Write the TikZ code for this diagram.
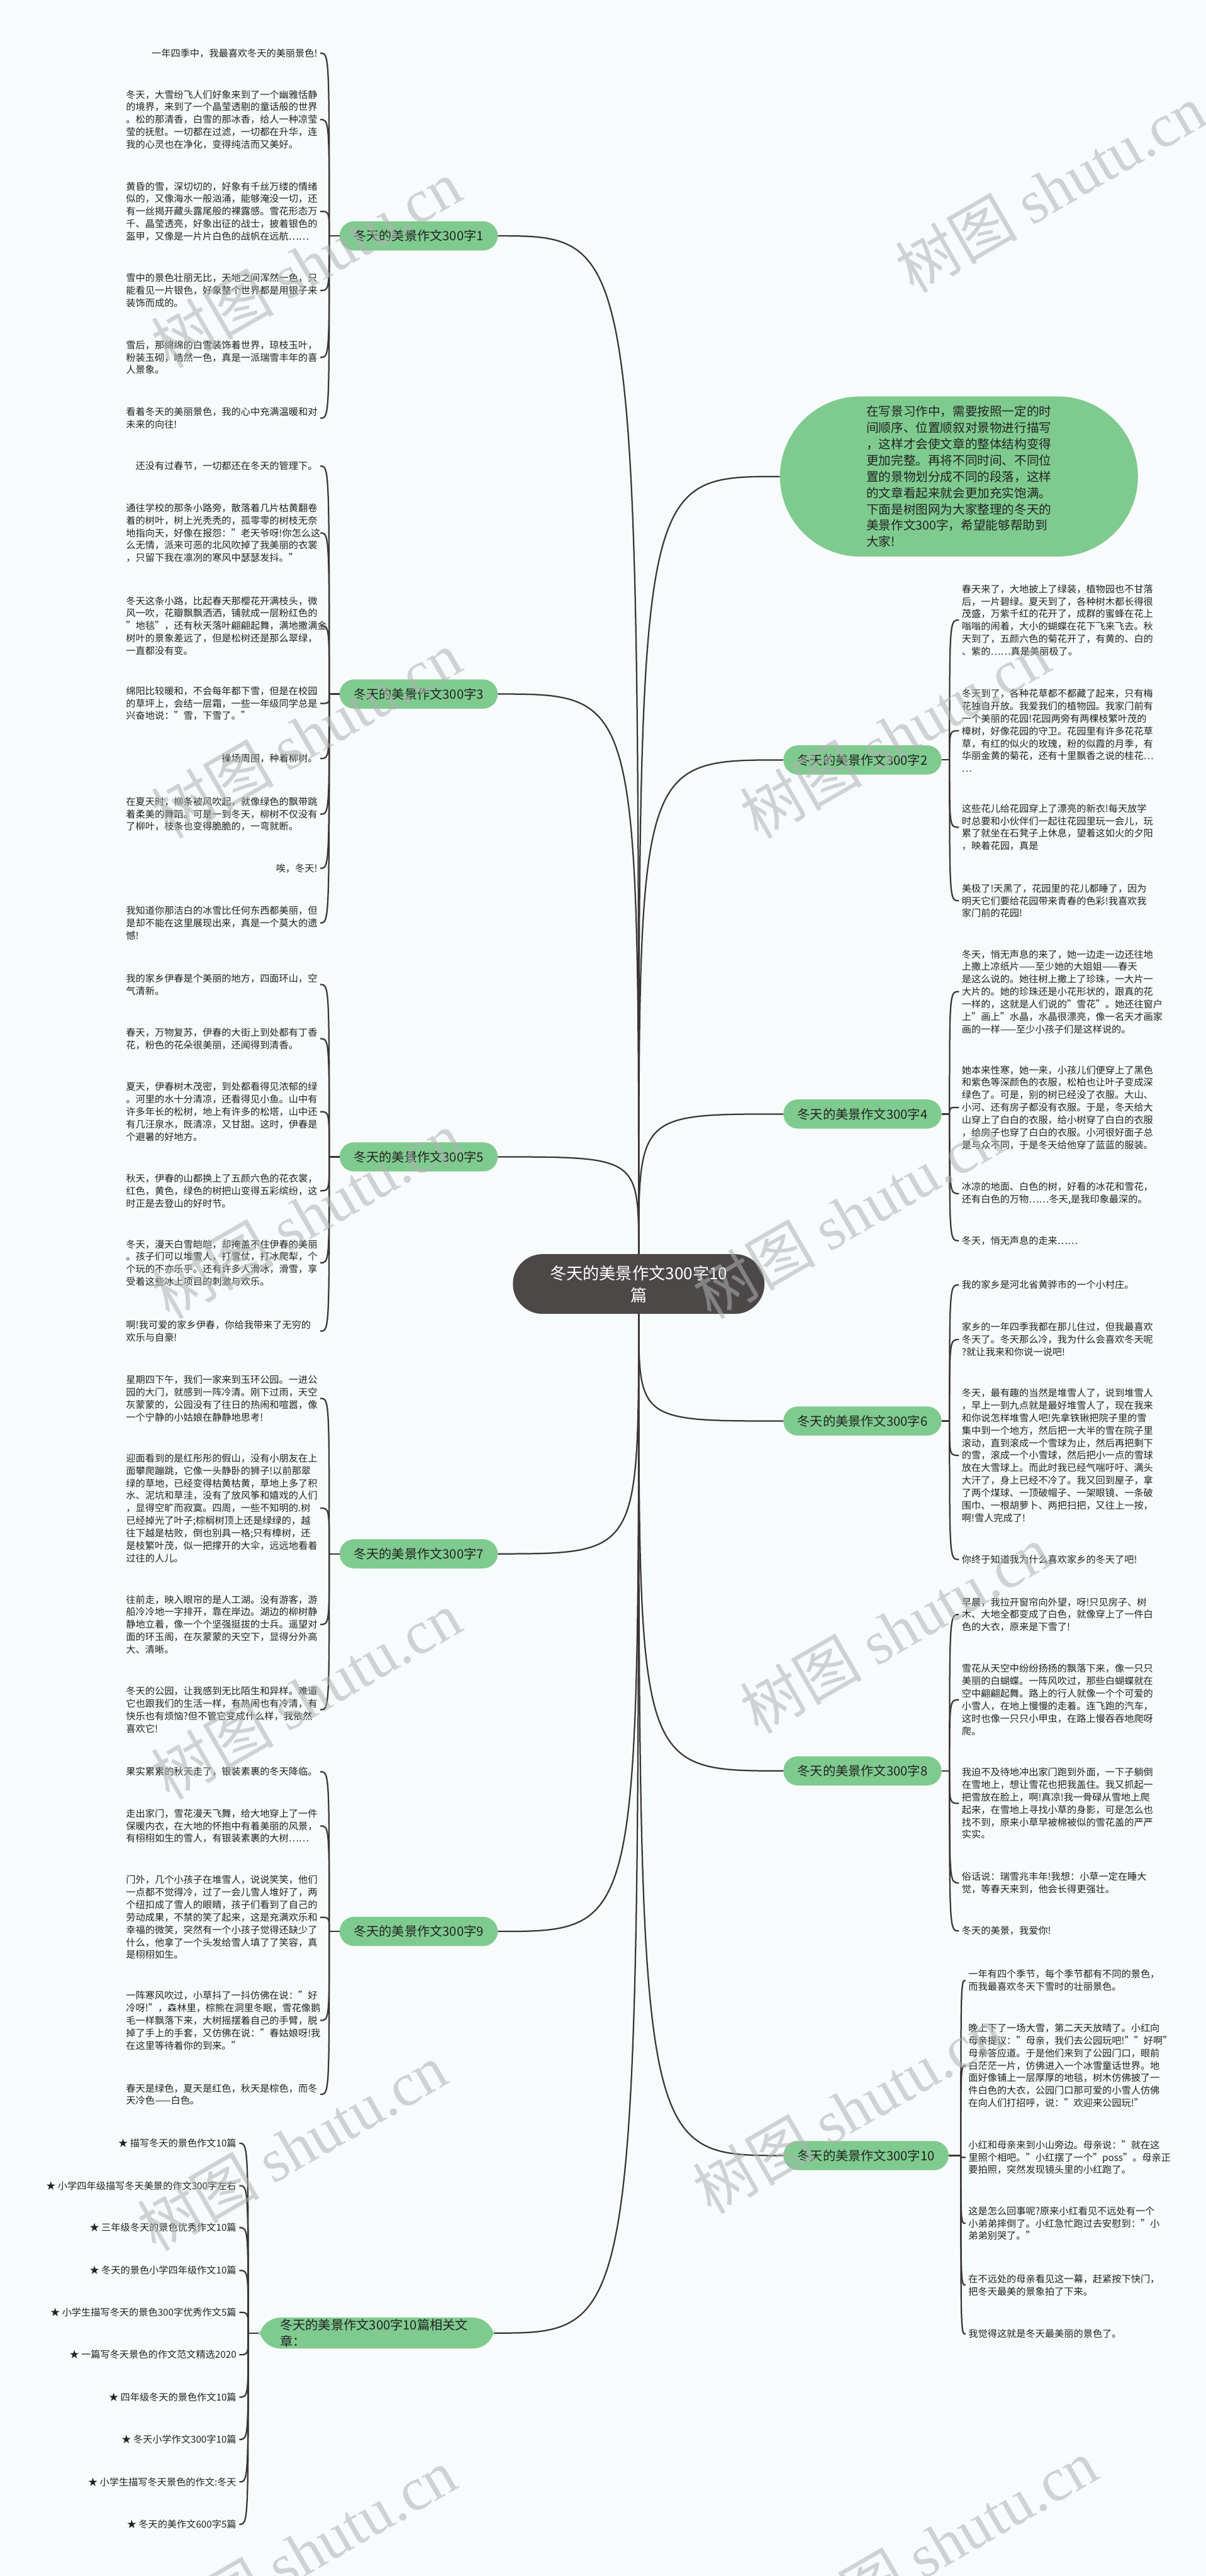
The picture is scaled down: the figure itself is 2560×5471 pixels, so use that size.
\documentclass[tikz,border=0pt]{standalone}
\usepackage{fontspec}
\setmainfont{Noto Sans CJK SC}
\newfontfamily\wmserif{Liberation Serif}
\definecolor{paper}{RGB}{248,251,252}
\definecolor{leafgreen}{RGB}{127,203,143}
\definecolor{hubgray}{RGB}{77,72,72}
\definecolor{linkgray}{RGB}{58,54,54}
\definecolor{txt}{RGB}{34,34,34}
\definecolor{wmgray}{RGB}{175,178,178}
\newcommand\leaffont{\fontsize{20.3}{26.5}\selectfont}
\newcommand\branchfont{\fontsize{27}{34}\selectfont}
\newcommand\hubfont{\fontsize{35}{47}\selectfont}
\newcommand\notefont{\fontsize{26.2}{34.6}\selectfont}
\newcommand\wmfont{\fontsize{130}{130}\selectfont}
\tikzset{
  leaftext/.style={font=\leaffont, text=txt, align=left, inner xsep=6pt, inner ysep=3pt},
  leafpara/.style={leaftext, text width=406pt},
  branchbox/.style={fill=leafgreen, text=txt, font=\branchfont, rounded corners=31pt, minimum height=62pt, inner xsep=30pt},
  hubbox/.style={fill=hubgray, text=white, font=\hubfont, align=center, rounded corners=63pt, minimum width=534pt, minimum height=127pt},
  notebubble/.style={fill=leafgreen, text=txt, font=\notefont, align=left, rounded corners=170pt, minimum width=760pt, minimum height=340pt},
  linkline/.style={draw=linkgray, line width=3pt},
  wmark/.style={font=\wmfont, text=wmgray, text opacity=0.55, rotate=30}
}
\begin{document}
\begin{tikzpicture}[x=1pt,y=-1pt]
\fill[paper] (0,0) rectangle (2560,5471);
\useasboundingbox (0,0) rectangle (2560,5471);

% centre and first level
\node[hubbox] (hub) at (1356,2727) {冬天的美景作文300字10\\篇};
\node[branchbox, anchor=east] (b1) at (1057,501) {冬天的美景作文300字1};
\node[branchbox, anchor=east] (b3) at (1057,1474) {冬天的美景作文300字3};
\node[branchbox, anchor=east] (b5) at (1057,2457) {冬天的美景作文300字5};
\node[branchbox, anchor=east] (b7) at (1057,3300) {冬天的美景作文300字7};
\node[branchbox, anchor=east] (b9) at (1057,4102) {冬天的美景作文300字9};
\node[branchbox, anchor=east, align=left, text width=410pt, inner xsep=45pt, rounded corners=46pt] (rel) at (1050,4955) {冬天的美景作文300字10篇相关文\\章：};
\node[notebubble] (intro) at (2036,1012) {在写景习作中，需要按照一定的时\\间顺序、位置顺叙对景物进行描写\\，这样才会使文章的整体结构变得\\更加完整。再将不同时间、不同位\\置的景物划分成不同的段落，这样\\的文章看起来就会更加充实饱满。\\下面是树图网为大家整理的冬天的\\美景作文300字，希望能够帮助到\\大家!};
\node[branchbox, anchor=west] (b2) at (1663,1614) {冬天的美景作文300字2};
\node[branchbox, anchor=west] (b4) at (1663,2366) {冬天的美景作文300字4};
\node[branchbox, anchor=west] (b6) at (1663,3018) {冬天的美景作文300字6};
\node[branchbox, anchor=west] (b8) at (1663,3761) {冬天的美景作文300字8};
\node[branchbox, anchor=west] (b10) at (1663,4578) {冬天的美景作文300字10};

\draw[linkline] (hub.north) .. controls (hub.north |- b1.east) .. (b1.east);
\draw[linkline] (hub.north) .. controls (hub.north |- b3.east) .. (b3.east);
\draw[linkline] (hub.north) .. controls (hub.north |- b5.east) .. (b5.east);
\draw[linkline] (hub.south) .. controls (hub.south |- b7.east) .. (b7.east);
\draw[linkline] (hub.south) .. controls (hub.south |- b9.east) .. (b9.east);
\draw[linkline] (hub.south) .. controls (hub.south |- rel.east) .. (rel.east);
\draw[linkline] (hub.north) .. controls (hub.north |- intro.west) .. (intro.west);
\draw[linkline] (hub.north) .. controls (hub.north |- b2.west) .. (b2.west);
\draw[linkline] (hub.north) .. controls (hub.north |- b4.west) .. (b4.west);
\draw[linkline] (hub.south) .. controls (hub.south |- b6.west) .. (b6.west);
\draw[linkline] (hub.south) .. controls (hub.south |- b8.west) .. (b8.west);
\draw[linkline] (hub.south) .. controls (hub.south |- b10.west) .. (b10.west);

% branch 1
\coordinate (s1) at (699,501);
\node[leaftext, anchor=east] (t1a) at (680,113) {一年四季中，我最喜欢冬天的美丽景色!};
\node[leafpara, anchor=east] (t1b) at (680,254) {冬天，大雪纷飞人们好象来到了一个幽雅恬静\\的境界，来到了一个晶莹透剔的童话般的世界\\。松的那清香，白雪的那冰香，给人一种凉莹\\莹的抚慰。一切都在过滤，一切都在升华，连\\我的心灵也在净化，变得纯洁而又美好。};
\node[leafpara, anchor=east] (t1c) at (680,449) {黄昏的雪，深切切的，好象有千丝万缕的情绪\\似的，又像海水一般汹涌，能够淹没一切，还\\有一丝揭开藏头露尾般的裸露感。雪花形态万\\千、晶莹透亮，好象出征的战士，披着银色的\\盔甲，又像是一片片白色的战帆在远航……};
\node[leafpara, anchor=east] (t1d) at (680,617) {雪中的景色壮丽无比，天地之间浑然一色，只\\能看见一片银色，好象整个世界都是用银子来\\装饰而成的。};
\node[leafpara, anchor=east] (t1e) at (680,759) {雪后，那绵绵的白雪装饰着世界，琼枝玉叶，\\粉装玉砌，皓然一色，真是一派瑞雪丰年的喜\\人景象。};
\node[leafpara, anchor=east] (t1f) at (680,888) {看着冬天的美丽景色，我的心中充满温暖和对\\未来的向往!};
\draw[linkline] (b1.west) -- (s1);
\draw[linkline] (s1) .. controls (s1 |- t1a.east) .. (t1a.east);
\draw[linkline] (s1) .. controls (s1 |- t1b.east) .. (t1b.east);
\draw[linkline] (s1) .. controls (s1 |- t1c.east) .. (t1c.east);
\draw[linkline] (s1) .. controls (s1 |- t1d.east) .. (t1d.east);
\draw[linkline] (s1) .. controls (s1 |- t1e.east) .. (t1e.east);
\draw[linkline] (s1) .. controls (s1 |- t1f.east) .. (t1f.east);

% branch 3
\coordinate (s3) at (699,1474);
\node[leaftext, anchor=east] (t3a) at (680,990) {还没有过春节，一切都还在冬天的管理下。};
\node[leafpara, anchor=east] (t3b) at (680,1132) {通往学校的那条小路旁，散落着几片枯黄翻卷\\着的树叶，树上光秃秃的，孤零零的树枝无奈\\地指向天，好像在报怨："老天爷呀!你怎么这\\么无情，派来可恶的北风吹掉了我美丽的衣裳\\，只留下我在凛冽的寒风中瑟瑟发抖。"};
\node[leafpara, anchor=east] (t3c) at (680,1329) {冬天这条小路，比起春天那樱花开满枝头，微\\风一吹，花瓣飘飘洒洒，铺就成一层粉红色的\\"地毯"，还有秋天落叶翩翩起舞，满地撒满金\\树叶的景象差远了，但是松树还是那么翠绿，\\一直都没有变。};
\node[leafpara, anchor=east] (t3d) at (680,1494) {绵阳比较暖和，不会每年都下雪，但是在校园\\的草坪上，会结一层霜，一些一年级同学总是\\兴奋地说："雪，下雪了。"};
\node[leaftext, anchor=east] (t3e) at (680,1611) {操场周围，种着柳树。};
\node[leafpara, anchor=east] (t3f) at (680,1729) {在夏天时，柳条被风吹起，就像绿色的飘带跳\\着柔美的舞蹈。可是一到冬天，柳树不仅没有\\了柳叶，枝条也变得脆脆的，一弯就断。};
\node[leaftext, anchor=east] (t3g) at (680,1844) {唉，冬天!};
\node[leafpara, anchor=east] (t3h) at (680,1960) {我知道你那洁白的冰雪比任何东西都美丽，但\\是却不能在这里展现出来，真是一个莫大的遗\\憾!};
\draw[linkline] (b3.west) -- (s3);
\draw[linkline] (s3) .. controls (s3 |- t3a.east) .. (t3a.east);
\draw[linkline] (s3) .. controls (s3 |- t3b.east) .. (t3b.east);
\draw[linkline] (s3) .. controls (s3 |- t3c.east) .. (t3c.east);
\draw[linkline] (s3) .. controls (s3 |- t3d.east) .. (t3d.east);
\draw[linkline] (s3) .. controls (s3 |- t3e.east) .. (t3e.east);
\draw[linkline] (s3) .. controls (s3 |- t3f.east) .. (t3f.east);
\draw[linkline] (s3) .. controls (s3 |- t3g.east) .. (t3g.east);
\draw[linkline] (s3) .. controls (s3 |- t3h.east) .. (t3h.east);

% branch 5
\coordinate (s5) at (699,2457);
\node[leafpara, anchor=east] (t5a) at (680,2091) {我的家乡伊春是个美丽的地方，四面环山，空\\气清新。};
\node[leafpara, anchor=east] (t5b) at (680,2206) {春天，万物复苏，伊春的大街上到处都有丁香\\花，粉色的花朵很美丽，还闻得到清香。};
\node[leafpara, anchor=east] (t5c) at (680,2361) {夏天，伊春树木茂密，到处都看得见浓郁的绿\\。河里的水十分清凉，还看得见小鱼。山中有\\许多年长的松树，地上有许多的松塔，山中还\\有几汪泉水，既清凉，又甘甜。这时，伊春是\\个避暑的好地方。};
\node[leafpara, anchor=east] (t5d) at (680,2529) {秋天，伊春的山都换上了五颜六色的花衣裳，\\红色，黄色，绿色的树把山变得五彩缤纷，这\\时正是去登山的好时节。};
\node[leafpara, anchor=east] (t5e) at (680,2682) {冬天，漫天白雪皑皑，却掩盖不住伊春的美丽\\。孩子们可以堆雪人，打雪仗，打冰爬犁，个\\个玩的不亦乐乎。还有许多人滑冰，滑雪，享\\受着这些冰上项目的刺激与欢乐。};
\node[leafpara, anchor=east] (t5f) at (680,2827) {啊!我可爱的家乡伊春，你给我带来了无穷的\\欢乐与自豪!};
\draw[linkline] (b5.west) -- (s5);
\draw[linkline] (s5) .. controls (s5 |- t5a.east) .. (t5a.east);
\draw[linkline] (s5) .. controls (s5 |- t5b.east) .. (t5b.east);
\draw[linkline] (s5) .. controls (s5 |- t5c.east) .. (t5c.east);
\draw[linkline] (s5) .. controls (s5 |- t5d.east) .. (t5d.east);
\draw[linkline] (s5) .. controls (s5 |- t5e.east) .. (t5e.east);
\draw[linkline] (s5) .. controls (s5 |- t5f.east) .. (t5f.east);

% branch 7
\coordinate (s7) at (699,3300);
\node[leafpara, anchor=east] (t7a) at (680,2970) {星期四下午，我们一家来到玉环公园。一进公\\园的大门，就感到一阵冷清。刚下过雨，天空\\灰蒙蒙的，公园没有了往日的热闹和喧嚣，像\\一个宁静的小姑娘在静静地思考!};
\node[leafpara, anchor=east] (t7b) at (680,3203) {迎面看到的是红彤彤的假山，没有小朋友在上\\面攀爬蹦跳，它像一头静卧的狮子!以前那翠\\绿的草地，已经变得枯黄枯黄，草地上多了积\\水、泥坑和草洼，没有了放风筝和嬉戏的人们\\，显得空旷而寂寞。四周，一些不知明的.树\\已经掉光了叶子;棕榈树顶上还是绿绿的，越\\往下越是枯败，倒也别具一格;只有樟树，还\\是枝繁叶茂，似一把撑开的大伞，远远地看着\\过往的人儿。};
\node[leafpara, anchor=east] (t7c) at (680,3450) {往前走，映入眼帘的是人工湖。没有游客，游\\船冷冷地一字排开，靠在岸边。湖边的柳树静\\静地立着，像一个个坚强挺拔的士兵。遥望对\\面的环玉阁，在灰蒙蒙的天空下，显得分外高\\大、清晰。};
\node[leafpara, anchor=east] (t7d) at (680,3631) {冬天的公园，让我感到无比陌生和异样。难道\\它也跟我们的生活一样，有热闹也有冷清，有\\快乐也有烦恼?但不管它变成什么样，我依然\\喜欢它!};
\draw[linkline] (b7.west) -- (s7);
\draw[linkline] (s7) .. controls (s7 |- t7a.east) .. (t7a.east);
\draw[linkline] (s7) .. controls (s7 |- t7b.east) .. (t7b.east);
\draw[linkline] (s7) .. controls (s7 |- t7c.east) .. (t7c.east);
\draw[linkline] (s7) .. controls (s7 |- t7d.east) .. (t7d.east);

% branch 9
\coordinate (s9) at (699,4102);
\node[leaftext, anchor=east] (t9a) at (680,3763) {果实累累的秋天走了，银装素裹的冬天降临。};
\node[leafpara, anchor=east] (t9b) at (680,3878) {走出家门，雪花漫天飞舞，给大地穿上了一件\\保暖内衣，在大地的怀抱中有着美丽的风景，\\有栩栩如生的雪人，有银装素裹的大树……};
\node[leafpara, anchor=east] (t9c) at (680,4072) {门外，几个小孩子在堆雪人，说说笑笑，他们\\一点都不觉得冷，过了一会儿雪人堆好了，两\\个纽扣成了雪人的眼睛，孩子们看到了自己的\\劳动成果，不禁的笑了起来，这是充满欢乐和\\幸福的微笑，突然有一个小孩子觉得还缺少了\\什么，他拿了一个头发给雪人填了了笑容，真\\是栩栩如生。};
\node[leafpara, anchor=east] (t9d) at (680,4291) {一阵寒风吹过，小草抖了一抖仿佛在说："好\\冷呀!"，森林里，棕熊在洞里冬眠，雪花像鹅\\毛一样飘落下来，大树摇摆着自己的手臂，脱\\掉了手上的手套，又仿佛在说："春姑娘呀!我\\在这里等待着你的到来。"};
\node[leafpara, anchor=east] (t9e) at (680,4448) {春天是绿色，夏天是红色，秋天是棕色，而冬\\天冷色——白色。};
\draw[linkline] (b9.west) -- (s9);
\draw[linkline] (s9) .. controls (s9 |- t9a.east) .. (t9a.east);
\draw[linkline] (s9) .. controls (s9 |- t9b.east) .. (t9b.east);
\draw[linkline] (s9) .. controls (s9 |- t9c.east) .. (t9c.east);
\draw[linkline] (s9) .. controls (s9 |- t9d.east) .. (t9d.east);
\draw[linkline] (s9) .. controls (s9 |- t9e.east) .. (t9e.east);

% related articles
\coordinate (s11) at (527,4955);
\node[leaftext, anchor=east] (k1) at (508,4552) {★ 描写冬天的景色作文10篇};
\node[leaftext, anchor=east] (k2) at (508,4642) {★ 小学四年级描写冬天美景的作文300字左右};
\node[leaftext, anchor=east] (k3) at (508,4731) {★ 三年级冬天的景色优秀作文10篇};
\node[leaftext, anchor=east] (k4) at (508,4822) {★ 冬天的景色小学四年级作文10篇};
\node[leaftext, anchor=east] (k5) at (508,4911) {★ 小学生描写冬天的景色300字优秀作文5篇};
\node[leaftext, anchor=east] (k6) at (508,5001) {★ 一篇写冬天景色的作文范文精选2020};
\node[leaftext, anchor=east] (k7) at (508,5091) {★ 四年级冬天的景色作文10篇};
\node[leaftext, anchor=east] (k8) at (508,5181) {★ 冬天小学作文300字10篇};
\node[leaftext, anchor=east] (k9) at (508,5271) {★ 小学生描写冬天景色的作文:冬天};
\node[leaftext, anchor=east] (k10) at (508,5361) {★ 冬天的美作文600字5篇};
\draw[linkline] (rel.west) -- (s11);
\draw[linkline] (s11) .. controls (s11 |- k1.east) .. (k1.east);
\draw[linkline] (s11) .. controls (s11 |- k2.east) .. (k2.east);
\draw[linkline] (s11) .. controls (s11 |- k3.east) .. (k3.east);
\draw[linkline] (s11) .. controls (s11 |- k4.east) .. (k4.east);
\draw[linkline] (s11) .. controls (s11 |- k5.east) .. (k5.east);
\draw[linkline] (s11) .. controls (s11 |- k6.east) .. (k6.east);
\draw[linkline] (s11) .. controls (s11 |- k7.east) .. (k7.east);
\draw[linkline] (s11) .. controls (s11 |- k8.east) .. (k8.east);
\draw[linkline] (s11) .. controls (s11 |- k9.east) .. (k9.east);
\draw[linkline] (s11) .. controls (s11 |- k10.east) .. (k10.east);

% branch 2
\coordinate (s2) at (2016,1614);
\node[leafpara, anchor=west] (r2a) at (2036,1317) {春天来了，大地披上了绿装，植物园也不甘落\\后，一片碧绿。夏天到了，各种树木都长得很\\茂盛，万紫千红的花开了，成群的蜜蜂在花上\\嗡嗡的闹着，大小的蝴蝶在花下飞来飞去。秋\\天到了，五颜六色的菊花开了，有黄的、白的\\、紫的……真是美丽极了。};
\node[leafpara, anchor=west] (r2b) at (2036,1552) {冬天到了，各种花草都不都藏了起来，只有梅\\花独自开放。我爱我们的植物园。我家门前有\\一个美丽的花园!花园两旁有两棵枝繁叶茂的\\樟树，好像花园的守卫。花园里有许多花花草\\草，有红的似火的玫瑰，粉的似霞的月季，有\\华丽金黄的菊花，还有十里飘香之说的桂花…\\…};
\node[leafpara, anchor=west] (r2c) at (2036,1757) {这些花儿给花园穿上了漂亮的新衣!每天放学\\时总要和小伙伴们一起往花园里玩一会儿，玩\\累了就坐在石凳子上休息，望着这如火的夕阳\\，映着花园，真是};
\node[leafpara, anchor=west] (r2d) at (2036,1913) {美极了!天黑了，花园里的花儿都睡了，因为\\明天它们要给花园带来青春的色彩!我喜欢我\\家门前的花园!};
\draw[linkline] (b2.east) -- (s2);
\draw[linkline] (s2) .. controls (s2 |- r2a.west) .. (r2a.west);
\draw[linkline] (s2) .. controls (s2 |- r2b.west) .. (r2b.west);
\draw[linkline] (s2) .. controls (s2 |- r2c.west) .. (r2c.west);
\draw[linkline] (s2) .. controls (s2 |- r2d.west) .. (r2d.west);

% branch 4
\coordinate (s4) at (2016,2366);
\node[leafpara, anchor=west] (r4a) at (2036,2106) {冬天，悄无声息的来了，她一边走一边还往地\\上撒上凉纸片——至少她的大姐姐——春天\\是这么说的。她往树上撒上了珍珠，一大片一\\大片的。她的珍珠还是小花形状的，跟真的花\\一样的，这就是人们说的"雪花"。她还往窗户\\上"画上"水晶，水晶很漂亮，像一名天才画家\\画的一样——至少小孩子们是这样说的。};
\node[leafpara, anchor=west] (r4b) at (2036,2352) {她本来性寒，她一来，小孩儿们便穿上了黑色\\和紫色等深颜色的衣服，松柏也让叶子变成深\\绿色了。可是，别的树已经没了衣服。大山、\\小河、还有房子都没有衣服。于是，冬天给大\\山穿上了白白的衣服，给小树穿了白白的衣服\\，给房子也穿了白白的衣服。小河很好面子总\\是与众不同，于是冬天给他穿了蓝蓝的服装。};
\node[leafpara, anchor=west] (r4c) at (2036,2535) {冰凉的地面、白色的树，好看的冰花和雪花，\\还有白色的万物……冬天,是我印象最深的。};
\node[leaftext, anchor=west] (r4d) at (2036,2635) {冬天，悄无声息的走来……};
\draw[linkline] (b4.east) -- (s4);
\draw[linkline] (s4) .. controls (s4 |- r4a.west) .. (r4a.west);
\draw[linkline] (s4) .. controls (s4 |- r4b.west) .. (r4b.west);
\draw[linkline] (s4) .. controls (s4 |- r4c.west) .. (r4c.west);
\draw[linkline] (s4) .. controls (s4 |- r4d.west) .. (r4d.west);

% branch 6
\coordinate (s6) at (2016,3018);
\node[leaftext, anchor=west] (r6a) at (2036,2729) {我的家乡是河北省黄骅市的一个小村庄。};
\node[leafpara, anchor=west] (r6b) at (2036,2845) {家乡的一年四季我都在那儿住过，但我最喜欢\\冬天了。冬天那么冷，我为什么会喜欢冬天呢\\?就让我来和你说一说吧!};
\node[leafpara, anchor=west] (r6c) at (2036,3091) {冬天，最有趣的当然是堆雪人了，说到堆雪人\\，早上一到九点就是最好堆雪人了，现在我来\\和你说怎样堆雪人吧!先拿铁锹把院子里的雪\\集中到一个地方，然后把一大半的雪在院子里\\滚动，直到滚成一个雪球为止，然后再把剩下\\的雪，滚成一个小雪球，然后把小一点的雪球\\放在大雪球上。而此时我已经气喘吁吁、满头\\大汗了，身上已经不冷了。我又回到屋子，拿\\了两个煤球、一顶破帽子、一架眼镜、一条破\\围巾、一根胡萝卜、两把扫把，又往上一按，\\啊!雪人完成了!};
\node[leaftext, anchor=west] (r6d) at (2036,3312) {你终于知道我为什么喜欢家乡的冬天了吧!};
\draw[linkline] (b6.east) -- (s6);
\draw[linkline] (s6) .. controls (s6 |- r6a.west) .. (r6a.west);
\draw[linkline] (s6) .. controls (s6 |- r6b.west) .. (r6b.west);
\draw[linkline] (s6) .. controls (s6 |- r6c.west) .. (r6c.west);
\draw[linkline] (s6) .. controls (s6 |- r6d.west) .. (r6d.west);

% branch 8
\coordinate (s8) at (2016,3761);
\node[leafpara, anchor=west] (r8a) at (2036,3429) {早晨，我拉开窗帘向外望，呀!只见房子、树\\木、大地全都变成了白色，就像穿上了一件白\\色的大衣，原来是下雪了!};
\node[leafpara, anchor=west] (r8b) at (2036,3610) {雪花从天空中纷纷扬扬的飘落下来，像一只只\\美丽的白蝴蝶。一阵风吹过，那些白蝴蝶就在\\空中翩翩起舞。路上的行人就像一个个可爱的\\小雪人，在地上慢慢的走着。连飞跑的汽车，\\这时也像一只只小甲虫，在路上慢吞吞地爬呀\\爬。};
\node[leafpara, anchor=west] (r8c) at (2036,3830) {我迫不及待地冲出家门跑到外面，一下子躺倒\\在雪地上，想让雪花也把我盖住。我又抓起一\\把雪放在脸上，啊!真凉!我一骨碌从雪地上爬\\起来，在雪地上寻找小草的身影，可是怎么也\\找不到，原来小草早被棉被似的雪花盖的严严\\实实。};
\node[leafpara, anchor=west] (r8d) at (2036,3999) {俗话说：瑞雪兆丰年!我想：小草一定在睡大\\觉，等春天来到，他会长得更强壮。};
\node[leaftext, anchor=west] (r8e) at (2036,4101) {冬天的美景，我爱你!};
\draw[linkline] (b8.east) -- (s8);
\draw[linkline] (s8) .. controls (s8 |- r8a.west) .. (r8a.west);
\draw[linkline] (s8) .. controls (s8 |- r8b.west) .. (r8b.west);
\draw[linkline] (s8) .. controls (s8 |- r8c.west) .. (r8c.west);
\draw[linkline] (s8) .. controls (s8 |- r8d.west) .. (r8d.west);
\draw[linkline] (s8) .. controls (s8 |- r8e.west) .. (r8e.west);

% branch 10
\coordinate (s10) at (2040,4578);
\node[leafpara, anchor=west] (r10a) at (2050,4206) {一年有四个季节，每个季节都有不同的景色，\\而我最喜欢冬天下雪时的壮丽景色。};
\node[leafpara, anchor=west] (r10b) at (2050,4387) {晚上下了一场大雪，第二天天放晴了。小红向\\母亲提议："母亲，我们去公园玩吧!""好啊"\\母亲答应道。于是他们来到了公园门口，眼前\\白茫茫一片，仿佛进入一个冰雪童话世界。地\\面好像铺上一层厚厚的地毯，树木仿佛披了一\\件白色的大衣，公园门口那可爱的小雪人仿佛\\在向人们打招呼，说："欢迎来公园玩!"};
\node[leafpara, anchor=west] (r10c) at (2050,4582) {小红和母亲来到小山旁边。母亲说："就在这\\里照个相吧。"小红摆了一个"poss"。母亲正\\要拍照，突然发现镜头里的小红跑了。};
\node[leafpara, anchor=west] (r10d) at (2050,4722) {这是怎么回事呢?原来小红看见不远处有一个\\小弟弟摔倒了。小红急忙跑过去安慰到："小\\弟弟别哭了。"};
\node[leafpara, anchor=west] (r10e) at (2050,4853) {在不远处的母亲看见这一幕，赶紧按下快门，\\把冬天最美的景象拍了下来。};
\node[leaftext, anchor=west] (r10f) at (2050,4957) {我觉得这就是冬天最美丽的景色了。};
\draw[linkline] (b10.east) -- (s10);
\draw[linkline] (s10) .. controls (s10 |- r10a.west) .. (r10a.west);
\draw[linkline] (s10) .. controls (s10 |- r10b.west) .. (r10b.west);
\draw[linkline] (s10) .. controls (s10 |- r10c.west) .. (r10c.west);
\draw[linkline] (s10) .. controls (s10 |- r10d.west) .. (r10d.west);
\draw[linkline] (s10) .. controls (s10 |- r10e.west) .. (r10e.west);
\draw[linkline] (s10) .. controls (s10 |- r10f.west) .. (r10f.west);

% watermarks
\node[wmark] (wm1) at (650,560) {树图 {\wmserif shutu.cn}};
\node[wmark] (wm2) at (650,1560) {树图 {\wmserif shutu.cn}};
\node[wmark] (wm3) at (650,2580) {树图 {\wmserif shutu.cn}};
\node[wmark] (wm4) at (650,3600) {树图 {\wmserif shutu.cn}};
\node[wmark] (wm5) at (620,4560) {树图 {\wmserif shutu.cn}};
\node[wmark] (wm6) at (640,5420) {树图 {\wmserif shutu.cn}};
\node[wmark] (wm7) at (2230,400) {树图 {\wmserif shutu.cn}};
\node[wmark] (wm8) at (1900,1560) {树图 {\wmserif shutu.cn}};
\node[wmark] (wm9) at (1800,2580) {树图 {\wmserif shutu.cn}};
\node[wmark] (wm10) at (1900,3460) {树图 {\wmserif shutu.cn}};
\node[wmark] (wm11) at (1800,4480) {树图 {\wmserif shutu.cn}};
\node[wmark] (wm12) at (2000,5400) {树图 {\wmserif shutu.cn}};
\end{tikzpicture}
\end{document}
